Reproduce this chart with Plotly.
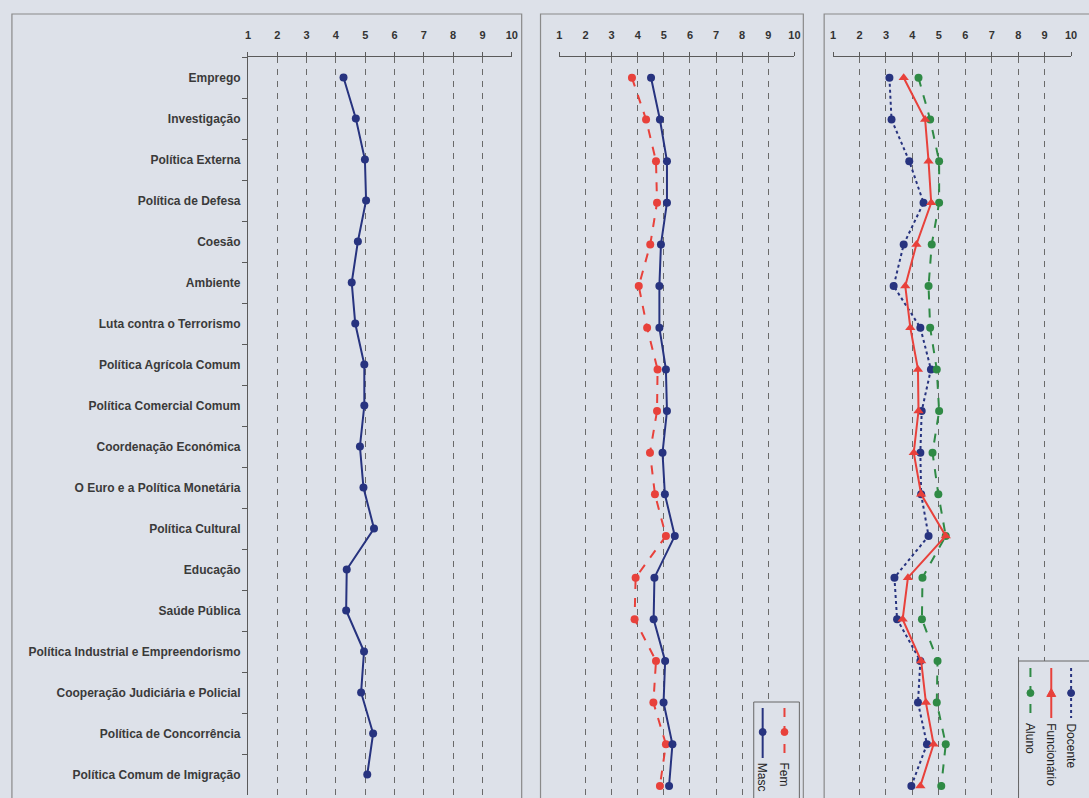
import plotly.graph_objects as go

W, H = 1089, 798

categorias = [
    "Emprego", "Investigação", "Política Externa", "Política de Defesa", "Coesão",
    "Ambiente", "Luta contra o Terrorismo", "Política Agrícola Comum",
    "Política Comercial Comum", "Coordenação Económica",
    "O Euro e a Política Monetária", "Política Cultural", "Educação", "Saúde Pública",
    "Política Industrial e Empreendorismo", "Cooperação Judiciária e Policial",
    "Política de Concorrência", "Política Comum de Imigração",
]

# Média global
total = [4.26, 4.68, 4.99, 5.03, 4.75, 4.54, 4.66, 4.97, 4.97, 4.82,
         4.94, 5.30, 4.37, 4.35, 4.96, 4.86, 5.27, 5.07]

# Por sexo
masc = [4.51, 4.85, 5.12, 5.12, 4.89, 4.83, 4.83, 5.08, 5.12, 4.95,
        5.04, 5.42, 4.64, 4.61, 5.05, 4.99, 5.33, 5.20]
fem = [3.78, 4.32, 4.70, 4.74, 4.48, 4.04, 4.36, 4.76, 4.74, 4.47,
       4.66, 5.08, 3.92, 3.88, 4.70, 4.60, 5.08, 4.85]

# Por grupo
docente = [3.13, 3.21, 3.88, 4.42, 3.67, 3.29, 4.30, 4.70, 4.35, 4.30,
           4.33, 4.61, 3.32, 3.42, 4.30, 4.21, 4.55, 3.96]
funcionario = [3.67, 4.48, 4.61, 4.71, 4.15, 3.73, 3.92, 4.21, 4.23, 4.05,
               4.33, 5.26, 3.83, 3.63, 4.33, 4.51, 4.80, 4.30]
aluno = [4.23, 4.67, 5.01, 5.01, 4.73, 4.61, 4.67, 4.92, 5.01, 4.76,
         4.98, 5.26, 4.38, 4.36, 4.95, 4.92, 5.26, 5.09]

escala = list(range(1, 11))

BLUE = "#27337f"
RED = "#e8413b"
GREEN = "#2f8a45"
BG = "#dde1e9"
AXC = "#5a5a5a"
FONT = "Liberation Sans, Arial, sans-serif"


def px_x(v):
    return v / W


def px_y(v):
    return 1 - v / H


fig = go.Figure()

# painel 1 : total
fig.add_trace(go.Scatter(
    x=total, y=categorias, xaxis="x", yaxis="y", mode="lines+markers",
    line=dict(color=BLUE, width=2), marker=dict(color=BLUE, size=8, symbol="circle"),
    showlegend=False))

# painel 2 : sexo
fig.add_trace(go.Scatter(
    x=fem, y=categorias, xaxis="x2", yaxis="y2", mode="lines+markers", name="Fem",
    line=dict(color=RED, width=2, dash="dash"), marker=dict(color=RED, size=8),
    showlegend=False))
fig.add_trace(go.Scatter(
    x=masc, y=categorias, xaxis="x2", yaxis="y2", mode="lines+markers", name="Masc",
    line=dict(color=BLUE, width=2), marker=dict(color=BLUE, size=8),
    showlegend=False))

# painel 3 : grupo
fig.add_trace(go.Scatter(
    x=docente, y=categorias, xaxis="x3", yaxis="y3", mode="lines+markers", name="Docente",
    line=dict(color=BLUE, width=2, dash="dot"), marker=dict(color=BLUE, size=8),
    showlegend=False))
fig.add_trace(go.Scatter(
    x=aluno, y=categorias, xaxis="x3", yaxis="y3", mode="lines+markers", name="Aluno",
    line=dict(color=GREEN, width=2, dash="dash"), marker=dict(color=GREEN, size=8),
    showlegend=False))
fig.add_trace(go.Scatter(
    x=funcionario, y=categorias, xaxis="x3", yaxis="y3", mode="lines+markers", name="Funcionário",
    line=dict(color=RED, width=2), marker=dict(color=RED, size=9, symbol="triangle-up"),
    showlegend=False))

top = px_y(57)
TICKFONT = dict(family=FONT, size=11, color="#333333", weight="bold")
LABELFONT = dict(family=FONT, size=12, color="#3a3a3a", weight="bold")


def xaxis_cfg(x0, x1):
    return dict(
        domain=[px_x(x0), px_x(x1)], range=[1, 10], side="top",
        tickvals=escala, ticktext=[str(v) for v in escala],
        ticks="outside", ticklen=4, tickcolor=AXC, ticklabelstandoff=9,
        showline=True, linecolor=AXC, linewidth=1,
        showgrid=True, gridcolor="#6a6a6a", gridwidth=1, griddash="6px,6px",
        zeroline=False, fixedrange=True, tickfont=TICKFONT,
    )


def yaxis_cfg(bottom_px, spacing, labels):
    y_bottom = -0.5 + (798 - 57) / spacing if bottom_px > 798 else 17.5
    dom0 = px_y(min(bottom_px, 798))
    return dict(
        domain=[dom0, top], type="category", categoryorder="array",
        categoryarray=categorias, range=[y_bottom, -0.5],
        showticklabels=labels, tickson="boundaries",
        ticks="outside" if labels else "", ticklen=5, tickcolor=AXC,
        showline=labels, linecolor=AXC, linewidth=1,
        showgrid=False, zeroline=False, fixedrange=True,
        tickfont=LABELFONT, ticklabelstandoff=4,
    )


fig.update_layout(
    width=W, height=H, margin=dict(l=0, r=0, t=0, b=0),
    paper_bgcolor=BG, plot_bgcolor="rgba(0,0,0,0)",
    xaxis=dict(xaxis_cfg(247, 513), anchor="y"),
    yaxis=dict(yaxis_cfg(795, 40.94, True), anchor="x"),
    xaxis2=dict(xaxis_cfg(561, 798), anchor="y2"),
    yaxis2=dict(yaxis_cfg(806.7, 41.65, False), anchor="x2"),
    xaxis3=dict(xaxis_cfg(837, 1077), anchor="y3"),
    yaxis3=dict(yaxis_cfg(806.7, 41.65, False), anchor="x3"),
    font=dict(family=FONT),
)

shapes = []
# molduras dos painéis
for x0, x1 in [(9, 523), (542, 807), (828, 1100)]:
    shapes.append(dict(type="rect", xref="paper", yref="paper",
                       x0=px_x(x0), x1=px_x(x1), y0=px_y(820), y1=px_y(14),
                       line=dict(color="#8a8a8a", width=1.2), fillcolor="rgba(0,0,0,0)",
                       layer="below"))

annotations = []


def legend_entry(xc, y_top, y_mark, y_bot, color, dash, symbol, label):
    shapes.append(dict(type="line", xref="paper", yref="paper",
                       x0=px_x(xc), x1=px_x(xc), y0=px_y(y_top), y1=px_y(y_bot),
                       line=dict(color=color, width=2, dash=dash)))
    r = 3.5
    if symbol == "circle":
        shapes.append(dict(type="circle", xref="paper", yref="paper",
                           x0=px_x(xc - r), x1=px_x(xc + r),
                           y0=px_y(y_mark + r), y1=px_y(y_mark - r),
                           fillcolor=color, line=dict(color=color, width=1)))
    else:
        path = "M {} {} L {} {} L {} {} Z".format(
            px_x(xc), px_y(y_mark - 4.5), px_x(xc - 4.5), px_y(y_mark + 3.5),
            px_x(xc + 4.5), px_y(y_mark + 3.5))
        shapes.append(dict(type="path", xref="paper", yref="paper", path=path,
                           fillcolor=color, line=dict(color=color, width=1)))
    annotations.append(dict(
        text=label, xref="paper", yref="paper", x=px_x(xc), y=px_y(y_bot + 3),
        xanchor="center", yanchor="top", textangle=90, showarrow=False,
        font=dict(family=FONT, size=12, color="#222222")))


# legenda do painel 2 (rodada)
shapes.append(dict(type="rect", xref="paper", yref="paper",
                   x0=px_x(757), x1=px_x(803), y0=px_y(820), y1=px_y(702),
                   line=dict(color="#666666", width=1), fillcolor=BG))
legend_entry(788, 708, 732, 758, RED, "dash", "circle", "Fem")
legend_entry(766, 708, 732, 758, BLUE, "solid", "circle", "Masc")

# legenda do painel 3 (rodada)
shapes.append(dict(type="rect", xref="paper", yref="paper",
                   x0=px_x(1024), x1=px_x(1100), y0=px_y(820), y1=px_y(661),
                   line=dict(color="#666666", width=1), fillcolor=BG))
legend_entry(1077, 668, 693, 718, BLUE, "dot", "circle", "Docente")
legend_entry(1057, 668, 693, 718, RED, "solid", "triangle", "Funcionário")
legend_entry(1036, 668, 693, 718, GREEN, "dash", "circle", "Aluno")

fig.update_layout(shapes=shapes, annotations=annotations)

fig.write_html("out.html")
